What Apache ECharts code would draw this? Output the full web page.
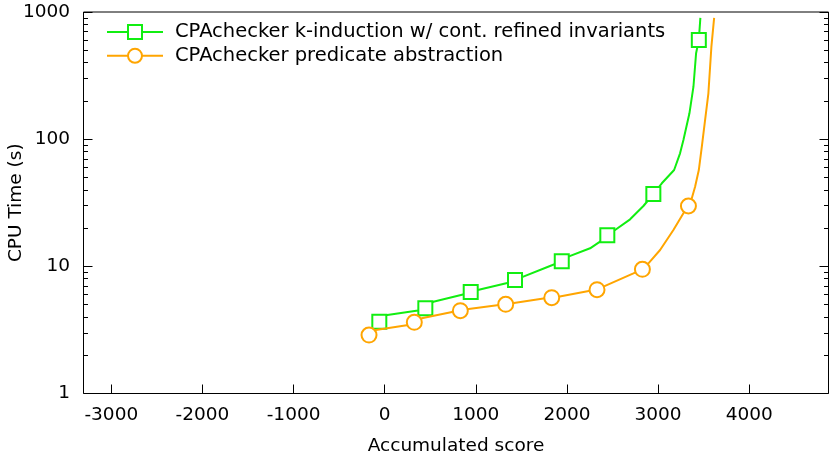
<!DOCTYPE html>
<html>
<head>
<meta charset="utf-8">
<script src="https://cdn.jsdelivr.net/npm/echarts@6/dist/echarts.min.js"></script>
<style>
html,body{margin:0;padding:0;background:#fff;}
#chart{width:830px;height:457px;}
</style>
</head>
<body>
<div id="chart"></div>
<script>
// ---- data ----
const seriesNames = ['CPAchecker k-induction w/ cont. refined invariants', 'CPAchecker predicate abstraction'];
const greenX = [-59, -8, 366, 446, 534, 882, 944, 1021, 1357, 1430, 1521, 1814, 1943, 2015, 2254, 2363, 2443, 2528, 2693, 2839, 2948, 3041, 3176, 3241, 3278, 3344, 3388, 3417, 3447, 3464];
const greenY = [3.67, 4.11, 4.50, 4.68, 5.27, 6.06, 6.28, 6.52, 7.43, 7.81, 8.29, 10.06, 10.95, 11.91, 13.86, 15.62, 17.54, 19.31, 23.43, 29.82, 37.05, 44.98, 57.2, 77.4, 98.5, 159.7, 258.5, 473.5, 602.3, 900];
const greenMarkers = [0, 3, 6, 9, 12, 16, 20, 28];
const orangeX = [-172, -99, 259, 325, 406, 753, 830, 900, 1255, 1328, 1760, 1833, 1906, 2254, 2330, 2400, 2729, 2828, 2894, 3022, 3168, 3278, 3333, 3370, 3406, 3447, 3480, 3516, 3552, 3585, 3615];
const orangeY = [2.88, 3.16, 3.46, 3.63, 3.90, 4.40, 4.48, 4.59, 4.97, 5.03, 5.61, 5.67, 5.77, 6.43, 6.55, 6.92, 8.81, 9.48, 10.56, 13.44, 19.31, 26.13, 29.82, 34.27, 42.28, 57.2, 87.3, 141.5, 229.5, 533.5, 900];
const orangeMarkers = [0, 3, 6, 9, 11, 14, 17, 22];
const xTicks = [-3000, -2000, -1000, 0, 1000, 2000, 3000, 4000];
const yMajor = [1, 10, 100, 1000];
const yMinor = [2, 3, 4, 5, 6, 7, 8, 9, 20, 30, 40, 50, 60, 70, 80, 90, 200, 300, 400, 500, 600, 700, 800, 900];
const xMin = -3305, xMax = 4870;

// ---- build ----
const FONT = 'DejaVu Sans';
const GREEN = '#11ee11';
const ORANGE = '#ffa500';
function build(xs, ys, marks) {
  return xs.map((x, i) => marks.indexOf(i) >= 0 ? {value: [x, ys[i]]} : {value: [x, ys[i]], symbol: 'none'});
}
const lg = v => Math.log10(v);
function tickAxis(pos, vals, len) {
  return {
    type: 'value', position: pos, min: 0, max: 3,
    axisLine: {show: false}, splitLine: {show: false},
    axisLabel: {show: false},
    axisTick: {show: true, inside: true, length: len, customValues: vals.map(lg), lineStyle: {color: '#000', width: 1}}
  };
}
const plain = v => String(v);
const chart = echarts.init(document.getElementById('chart'), null, {renderer: 'canvas'});
chart.setOption({
  animation: false,
  backgroundColor: '#fff',
  grid: {left: 83.5, right: 1.5, top: 12, bottom: 63.5, outerBoundsMode: 'none', containLabel: false,
         show: true, borderColor: '#000', borderWidth: 1, backgroundColor: 'transparent'},
  legend: {
    orient: 'vertical', left: 106, top: 22, padding: 0,
    itemWidth: 56, itemHeight: 17.5, itemGap: 3.8,
    textStyle: {fontFamily: FONT, fontSize: 19.5, color: '#000', padding: [0, 0, 0, 7]},
    data: seriesNames
  },
  xAxis: {
    type: 'value', min: xMin, max: xMax,
    name: 'Accumulated score', nameLocation: 'middle', nameGap: 43, nameMoveOverlap: false,
    nameTextStyle: {fontFamily: FONT, fontSize: 18.5, color: '#000'},
    axisLine: {show: false}, splitLine: {show: false},
    axisTick: {show: true, inside: true, length: 9, customValues: xTicks, lineStyle: {color: '#000'}},
    axisLabel: {customValues: xTicks, formatter: plain, fontFamily: FONT, fontSize: 18.5, color: '#000', margin: 12}
  },
  yAxis: [
    {
      type: 'log', logBase: 10, min: 1, max: 1000, position: 'left',
      name: 'CPU Time (s)', nameLocation: 'middle', nameGap: 58, nameMoveOverlap: false,
      nameTextStyle: {fontFamily: FONT, fontSize: 18.5, color: '#000'},
      axisLine: {show: false}, splitLine: {show: false},
      axisTick: {show: false},
      axisLabel: {formatter: plain, fontFamily: FONT, fontSize: 18.5, color: '#000', margin: 13.5}
    },
    tickAxis('left', yMajor, 9),
    tickAxis('left', yMinor, 4.5),
    tickAxis('right', yMajor, 9),
    tickAxis('right', yMinor, 4.5)
  ],
  series: [
    {
      name: seriesNames[0], type: 'line', yAxisIndex: 0,
      data: build(greenX, greenY, greenMarkers),
      symbol: 'emptyRect', symbolSize: 14, showAllSymbol: true,
      lineStyle: {color: GREEN, width: 2},
      itemStyle: {color: GREEN, borderColor: GREEN, borderWidth: 2},
      z: 2
    },
    {
      name: seriesNames[1], type: 'line', yAxisIndex: 0,
      data: build(orangeX, orangeY, orangeMarkers),
      symbol: 'emptyCircle', symbolSize: 15, showAllSymbol: true,
      lineStyle: {color: ORANGE, width: 2},
      itemStyle: {color: ORANGE, borderColor: ORANGE, borderWidth: 2},
      z: 3
    }
  ]
});
</script>
</body>
</html>
